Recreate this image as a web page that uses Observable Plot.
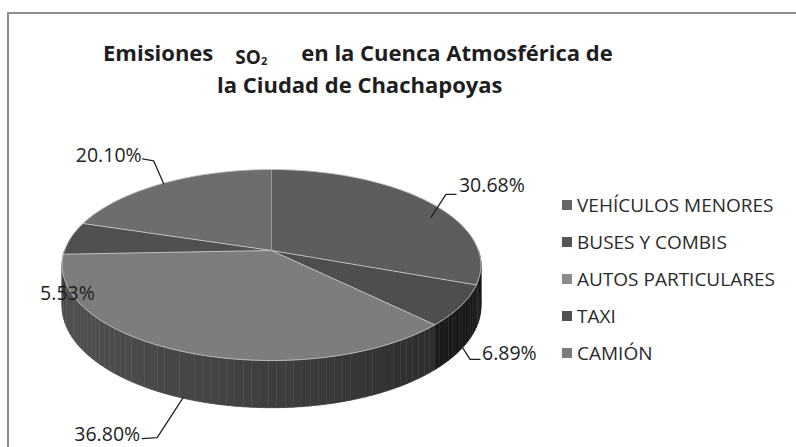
<!DOCTYPE html>
<html>
<head>
<meta charset="utf-8">
<script src="https://cdn.jsdelivr.net/npm/d3@7"></script>
<script src="https://cdn.jsdelivr.net/npm/@observablehq/plot@0.6"></script>
<style>
  html, body { margin: 0; padding: 0; background: #fff; }
  body { width: 796px; height: 447px; overflow: hidden; position: relative; font-family: "Open Sans", sans-serif; }
  #frame { position: absolute; left: 7px; top: 12px; width: 900px; height: 600px; border-left: 2px solid #8e8e8e; border-top: 2px solid #8e8e8e; }
  .tline { position: absolute; white-space: nowrap; font-weight: 700; font-size: 22px; line-height: 26px; color: #1e1e1e; }
  #t1 { left: 103px; top: 39px; }
  #t2 { left: 217px; top: 71px; }
  .so { display: inline-block; font-size: 19px; line-height: 16px; position: relative; top: 3px; margin-left: 22px; margin-right: 34px; }
  .so sub { font-size: 11px; line-height: 0; vertical-align: -1px; }
  #chart { position: absolute; left: 0; top: 105px; }
  #legend { position: absolute; left: 562px; top: 186px; }
  .item { display: flex; align-items: center; height: 37px; font-size: 19px; color: #2a2a2a; white-space: nowrap; }
  .sw { width: 10px; height: 10px; margin-right: 5px; }
</style>
</head>
<body>
<div id="frame"></div>
<div class="tline" id="t1">Emisiones<span class="so">SO<sub>2</sub></span>en la Cuenca Atmosférica de</div>
<div class="tline" id="t2">la Ciudad de Chachapoyas</div>
<div id="chart"></div>
<div id="legend"></div>
<script>
// ---- data ----
const categories = ["VEHÍCULOS MENORES", "BUSES Y COMBIS", "AUTOS PARTICULARES", "TAXI", "CAMIÓN"];
const values = [30.68, 6.89, 36.80, 5.53, 20.10];
const labels = ["30.68%", "6.89%", "36.80%", "5.53%", "20.10%"];

// ---- styles ----
const topColors = ["#5d5d5d", "#4e4e4e", "#7d7d7d", "#505050", "#6d6d6d"];
const legendColors = ["#676767", "#565656", "#8c8c8c", "#525252", "#7c7c7c"];
// label leader layout: pixel offsets from each slice's anchor point
const labelLayout = [
  {path: [[3, 8], [18, -15], [28, -15]], text: [31, -24], anchor: "start"},
  {path: [[2, 9], [9, 20], [19, 20]], text: [21, 14], anchor: "start"},
  {path: [[0, 1], [-26, 41], [-41, 42]], text: [-43, 38], anchor: "end"},
  {path: null, text: [-3, 38], anchor: "middle"},
  {path: [[1, -3], [-9, -26], [-20, -28]], text: [-21, -31], anchor: "end"}
];

// ---- geometry ----
const CX = 271, CY = 145, RX = 207, RY = 93.3, PERSP = 0.152, DEPTH = 40;
function proj(theta, down) {
  const t = theta * Math.PI / 180, u = Math.sin(t), v = -Math.cos(t);
  const s = 1 / (1 - PERSP * v);
  return {x: u * s, y: (v + down * DEPTH / RY) * s};
}
const pie = d3.pie().sort(null).value(d => d)(values);
const deg = r => r * 180 / Math.PI;
const slices = pie.map((p, i) => ({i, a: deg(p.startAngle), b: deg(p.endAngle)}));

function sideShade(hex, theta) {
  const t = theta * Math.PI / 180;
  const dot = -0.9 * Math.sin(t) + 0.3 * (-Math.cos(t));
  const f = Math.max(0.2, 0.5 + 0.2 * (dot - 0.3));
  const c = d3.rgb(hex);
  const g = Math.round(c.r * f);
  return d3.rgb(g, g, g).formatHex();
}

const topRows = [];
slices.forEach(s => {
  topRows.push({id: s.i, x: 0, y: 0, color: topColors[s.i]});
  const n = Math.max(2, Math.ceil(s.b - s.a));
  for (let k = 0; k <= n; k++) {
    const th = s.a + (s.b - s.a) * k / n;
    topRows.push({id: s.i, ...proj(th, 0), color: topColors[s.i]});
  }
});

const sideRows = [];
let seg = 0;
slices.forEach(s => {
  const a = Math.max(s.a, 90), b = Math.min(s.b, 270);
  if (b <= a) return;
  const n = Math.max(1, Math.ceil((b - a) / 2));
  for (let k = 0; k < n; k++) {
    const t0 = a + (b - a) * k / n, t1 = a + (b - a) * (k + 1) / n;
    const c = sideShade(topColors[s.i], (t0 + t1) / 2);
    [proj(t0, 0), proj(t1, 0), proj(t1, 1), proj(t0, 1)].forEach(p => sideRows.push({id: seg, ...p, color: c}));
    seg++;
  }
});

const leaderRows = [], labelRows = [];
slices.forEach(s => {
  const mid = (s.a + s.b) / 2;
  const v = -Math.cos(mid * Math.PI / 180);
  const anc = proj(mid, (1 + v) / 2);
  const L = labelLayout[s.i];
  if (L.path) L.path.forEach(([dx, dy]) => leaderRows.push({id: s.i, x: anc.x + dx / RX, y: anc.y + dy / RY}));
  labelRows.push({x: anc.x + L.text[0] / RX, y: anc.y + L.text[1] / RY, text: labels[s.i], anchor: L.anchor});
});

const textOpts = a => ({x: "x", y: "y", text: "text", textAnchor: a, fontSize: 19.5, fill: "#1e1e1e"});

const chart = Plot.plot({
  width: 796, height: 342, margin: 0,
  x: {domain: [-1, 1], range: [CX - RX, CX + RX], axis: null},
  y: {domain: [-1, 1], range: [CY - RY, CY + RY], axis: null},
  color: {type: "identity"},
  style: {fontFamily: '"Open Sans", sans-serif', background: "transparent", overflow: "visible"},
  marks: [
    Plot.line(sideRows, {x: "x", y: "y", z: "id", fill: "color", stroke: "color", strokeWidth: 0.8}),
    Plot.line(topRows, {x: "x", y: "y", z: "id", fill: "color", stroke: "#c4c4c4", strokeWidth: 0.9}),
    Plot.line(leaderRows, {x: "x", y: "y", z: "id", stroke: "#222", strokeWidth: 1.3, strokeLinejoin: "miter"}),
    Plot.text(labelRows.filter(d => d.anchor === "start"), textOpts("start")),
    Plot.text(labelRows.filter(d => d.anchor === "end"), textOpts("end")),
    Plot.text(labelRows.filter(d => d.anchor === "middle"), textOpts("middle"))
  ]
});
document.getElementById("chart").appendChild(chart);

const legend = document.getElementById("legend");
categories.forEach((c, i) => {
  const it = document.createElement("div");
  it.className = "item";
  const sw = document.createElement("span");
  sw.className = "sw";
  sw.style.background = legendColors[i];
  it.appendChild(sw);
  it.appendChild(document.createTextNode(c));
  legend.appendChild(it);
});
</script>
</body>
</html>
